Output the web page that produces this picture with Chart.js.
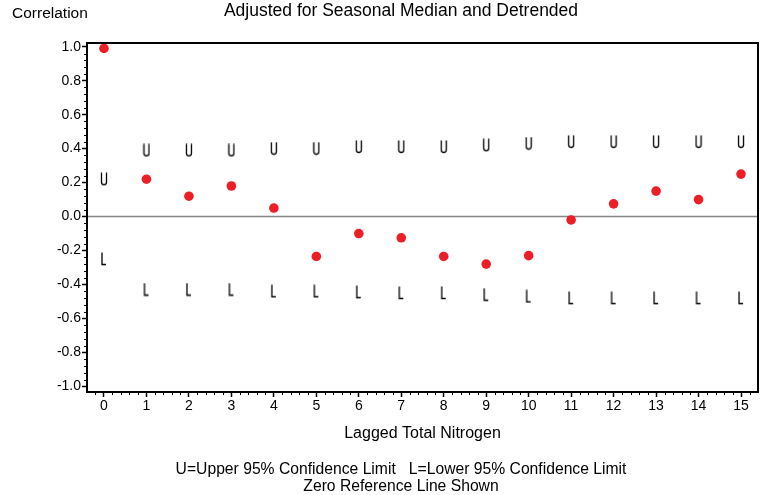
<!DOCTYPE html>
<html>
<head>
<meta charset="utf-8">
<script src="https://cdn.jsdelivr.net/npm/chart.js@4.4.1/dist/chart.umd.min.js"></script>
<style>
  html, body { margin: 0; padding: 0; background: #fff; }
  canvas { display: block; }
</style>
</head>
<body>
<canvas id="acf" width="767" height="495"></canvas>
<script>
/* ---- data ---- */
const lags  = [0, 1, 2, 3, 4, 5, 6, 7, 8, 9, 10, 11, 12, 13, 14, 15];
const corr  = [0.99, 0.22, 0.12, 0.18, 0.05, -0.235, -0.10, -0.125, -0.235, -0.28, -0.23, -0.02, 0.075, 0.15, 0.10, 0.25];
const upper = [0.22, 0.39, 0.39, 0.39, 0.40, 0.40, 0.41, 0.41, 0.41, 0.42, 0.43, 0.44, 0.44, 0.44, 0.44, 0.44];
const lower = [-0.25, -0.43, -0.43, -0.43, -0.44, -0.44, -0.445, -0.45, -0.45, -0.46, -0.47, -0.48, -0.48, -0.48, -0.48, -0.48];
const yTicks = [-1.0, -0.8, -0.6, -0.4, -0.2, 0.0, 0.2, 0.4, 0.6, 0.8, 1.0];

const FONT = '"Liberation Sans", Arial, sans-serif';

/* thin stroked U / L glyphs used as point styles */
function glyph(kind) {
  const c = document.createElement('canvas');
  c.width = 8; c.height = 14;
  const g = c.getContext('2d');
  g.strokeStyle = '#000';
  g.lineWidth = 1.3;
  g.beginPath();
  if (kind === 'U') {
    g.moveTo(1.5, 0.5);
    g.lineTo(1.5, 10);
    g.arc(4, 10, 2.5, Math.PI, 0, true);
    g.lineTo(6.5, 0.5);
  } else {
    g.moveTo(2, 0.5);
    g.lineTo(2, 12.5);
    g.lineTo(6, 12.5);
  }
  g.stroke();
  return c;
}

const pts = arr => lags.map((x, i) => ({ x, y: arr[i] }));

/* zero line, frame, minor ticks and free text */
const decor = {
  id: 'decor',
  beforeDatasetsDraw(chart) {
    const { ctx, chartArea: a, scales: { y } } = chart;
    const y0 = y.getPixelForValue(0);
    ctx.save();
    ctx.strokeStyle = '#858585';
    ctx.lineWidth = 1.5;
    ctx.beginPath();
    ctx.moveTo(a.left, y0);
    ctx.lineTo(a.right, y0);
    ctx.stroke();
    ctx.restore();
  },
  afterDatasetsDraw(chart) {
    const { ctx, chartArea: a, scales: { x, y } } = chart;
    ctx.save();
    ctx.strokeStyle = '#000';
    ctx.lineWidth = 1;
    ctx.beginPath();
    for (let k = -2; k <= 77; k++) {
      if (k % 5 === 0) continue;
      const px = Math.round(x.getPixelForValue(k / 5)) + 0.5;
      if (px <= a.left + 1 || px >= a.right - 1) continue;
      ctx.moveTo(px, a.bottom);
      ctx.lineTo(px, a.bottom + 3);
    }
    for (let k = -25; k <= 25; k++) {
      if (k % 5 === 0) continue;
      const py = Math.round(y.getPixelForValue(k / 25)) + 0.5;
      if (py <= a.top + 1 || py >= a.bottom - 1) continue;
      ctx.moveTo(a.left - 3, py);
      ctx.lineTo(a.left, py);
    }
    ctx.stroke();
    ctx.lineWidth = 2;
    ctx.strokeRect(a.left, a.top, a.right - a.left, a.bottom - a.top);
    ctx.restore();
  },
  afterDraw(chart) {
    const { ctx, chartArea: a } = chart;
    ctx.save();
    ctx.fillStyle = '#000';
    ctx.textBaseline = 'alphabetic';
    ctx.textAlign = 'left';
    ctx.font = '15.5px ' + FONT;
    ctx.fillText('Correlation', 12, 18);
    ctx.textAlign = 'center';
    ctx.font = '17.5px ' + FONT;
    ctx.fillText('Adjusted for Seasonal Median and Detrended', 401, 16);
    ctx.font = '16px ' + FONT;
    ctx.fillText('Lagged Total Nitrogen', (a.left + a.right) / 2, 438);
    ctx.font = '15.7px ' + FONT;
    ctx.fillText('U=Upper 95% Confidence Limit   L=Lower 95% Confidence Limit', 401, 474);
    ctx.fillText('Zero Reference Line Shown', 401, 491);
    ctx.restore();
  }
};

new Chart(document.getElementById('acf'), {
  type: 'scatter',
  data: {
    datasets: [
      { label: 'Upper', data: pts(upper), pointStyle: glyph('U'), pointRadius: 6 },
      { label: 'Lower', data: pts(lower), pointStyle: glyph('L'), pointRadius: 6 },
      { label: 'Correlation', data: pts(corr), pointStyle: 'circle', pointRadius: 4.8,
        backgroundColor: '#ec1f27', borderColor: '#ec1f27', borderWidth: 0 },
    ],
  },
  options: {
    responsive: false,
    animation: false,
    layout: { padding: { left: 0, top: 43, right: 9, bottom: 73 } },
    plugins: { legend: { display: false }, tooltip: { enabled: false } },
    scales: {
      x: {
        type: 'linear', min: -0.4, max: 15.4,
        afterBuildTicks: s => { s.ticks = lags.map(v => ({ value: v })); },
        afterFit: s => { s.height = 30; },
        ticks: { color: '#000', font: { family: FONT, size: 14 }, padding: 1, maxRotation: 0,
                 callback: v => String(v) },
        grid: { drawOnChartArea: false, tickLength: 5, tickColor: '#000', tickWidth: 1.5 },
        border: { display: false },
      },
      y: {
        type: 'linear', min: -1.033, max: 1.022,
        afterBuildTicks: s => { s.ticks = yTicks.map(v => ({ value: v })); },
        afterFit: s => { s.width = 87; },
        ticks: { color: '#000', font: { family: FONT, size: 14 }, padding: 1,
                 callback: v => Number(v).toFixed(1) },
        grid: { drawOnChartArea: false, tickLength: 5, tickColor: '#000', tickWidth: 1.5 },
        border: { display: false },
      },
    },
  },
  plugins: [decor],
});
</script>
</body>
</html>
